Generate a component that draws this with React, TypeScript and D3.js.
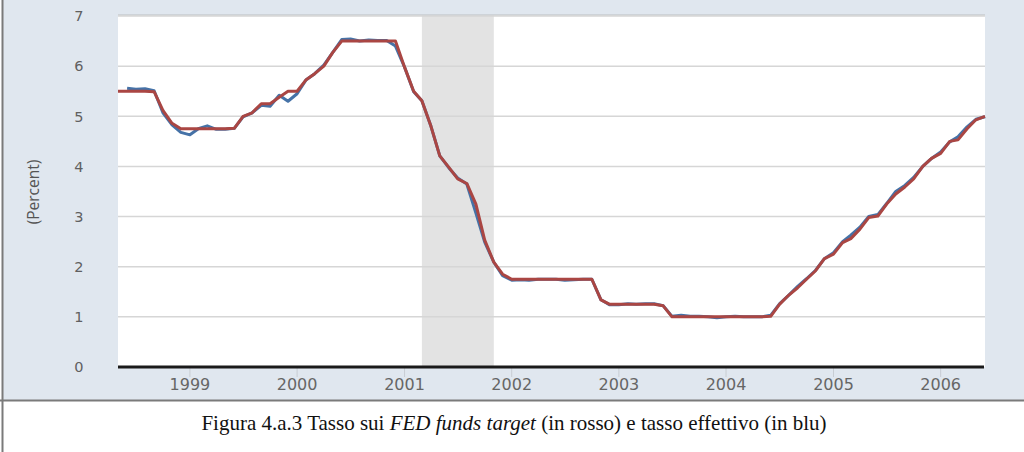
import * as d3 from 'd3';

// monthly averages, FED funds target (red) from May 1998, effective rate (blue) from Jun 1998
const targetStart = '1998-05';
const effectiveStart = '1998-06';
const endMonth = '2006-06';

const targetRate = [
  5.5, 5.5, 5.5, 5.5, 5.49, 5.12, 4.86, 4.75,
  4.75, 4.75, 4.75, 4.75, 4.75, 4.76, 5.0, 5.07, 5.25, 5.25, 5.38, 5.5,
  5.5, 5.73, 5.85, 6.0, 6.27, 6.5, 6.5, 6.5, 6.5, 6.5, 6.5, 6.5,
  5.98, 5.5, 5.31, 4.8, 4.21, 3.98, 3.75, 3.66, 3.25, 2.53, 2.09, 1.85,
  1.75, 1.75, 1.75, 1.75, 1.75, 1.75, 1.75, 1.75, 1.75, 1.75, 1.34, 1.25,
  1.25, 1.25, 1.25, 1.25, 1.25, 1.22, 1.0, 1.0, 1.0, 1.0, 1.0, 1.0,
  1.0, 1.0, 1.0, 1.0, 1.0, 1.01, 1.25, 1.43, 1.58, 1.75, 1.92, 2.16,
  2.25, 2.48, 2.56, 2.75, 2.98, 3.01, 3.25, 3.45, 3.59, 3.75, 4.0, 4.16,
  4.26, 4.5, 4.53, 4.75, 4.93, 5.0,
];

const effectiveRate = [
  5.56, 5.54, 5.55, 5.51, 5.07, 4.83, 4.68,
  4.63, 4.76, 4.81, 4.74, 4.74, 4.76, 4.99, 5.07, 5.22, 5.2, 5.42, 5.3,
  5.45, 5.73, 5.85, 6.02, 6.27, 6.53, 6.54, 6.5, 6.52, 6.51, 6.51, 6.4,
  5.98, 5.49, 5.31, 4.8, 4.21, 3.97, 3.77, 3.65, 3.07, 2.49, 2.09, 1.82,
  1.73, 1.74, 1.73, 1.75, 1.75, 1.75, 1.73, 1.74, 1.75, 1.75, 1.34, 1.24,
  1.24, 1.26, 1.25, 1.26, 1.26, 1.22, 1.01, 1.03, 1.01, 1.01, 1.0, 0.98,
  1.0, 1.01, 1.0, 1.0, 1.0, 1.03, 1.26, 1.43, 1.61, 1.76, 1.93, 2.16,
  2.28, 2.5, 2.63, 2.79, 3.0, 3.04, 3.26, 3.5, 3.62, 3.78, 4.0, 4.16,
  4.29, 4.49, 4.59, 4.79, 4.94, 4.99,
];

const recession = ['2001-03', '2001-11'];
const yTicks = [0, 1, 2, 3, 4, 5, 6, 7];
const xTickYears = ['1999', '2000', '2001', '2002', '2003', '2004', '2005', '2006'];

const parseMonth = d3.timeParse('%Y-%m');
const parseYear = d3.timeParse('%Y');

const App = () => {
  const width = 1024;
  const height = 452;
  const plot = { left: 118, right: 985, top: 16, bottom: 367 };

  const monthsFrom = (start: string) =>
    d3.timeMonth.range(parseMonth(start)!, d3.timeMonth.offset(parseMonth(endMonth)!, 1));
  const targetDates = monthsFrom(targetStart);
  const effectiveDates = monthsFrom(effectiveStart);

  const x = d3
    .scaleTime()
    .domain([parseMonth(targetStart)!, parseMonth(endMonth)!])
    .range([plot.left, plot.right]);
  const y = d3.scaleLinear().domain([0, 7]).range([plot.bottom, plot.top]);

  const line = d3
    .line<[Date, number]>()
    .x(d => x(d[0]))
    .y(d => y(d[1]));

  const targetPath = line(targetDates.map((d, i) => [d, targetRate[i]]))!;
  const effectivePath = line(effectiveDates.map((d, i) => [d, effectiveRate[i]]))!;

  const recX0 = x(parseMonth(recession[0])!);
  const recX1 = x(parseMonth(recession[1])!);

  return (
    <div style={{ position: 'absolute', left: 0, top: 0 }}>
      <svg width={width} height={height} style={{ display: 'block' }}>
        <rect x={0} y={0} width={width} height={height} fill="#ffffff" />
        <rect x={3} y={0} width={width - 3} height={400} fill="#e0e7ef" />
        <rect
          x={plot.left}
          y={plot.top - 1}
          width={plot.right - plot.left}
          height={plot.bottom - plot.top + 1}
          fill="#ffffff"
        />
        <rect x={recX0} y={plot.top - 1} width={recX1 - recX0} height={plot.bottom - plot.top + 1} fill="#e3e3e3" />
        <line x1={plot.left} x2={plot.right} y1={plot.top - 1} y2={plot.top - 1} stroke="#c9ccd0" strokeWidth={1.5} />
        {yTicks.slice(1).map(t => (
          <line key={t} x1={plot.left} x2={plot.right} y1={y(t)} y2={y(t)} stroke="#d6d6d6" strokeWidth={1.5} />
        ))}
        {yTicks.map(t => (
          <text
            key={t}
            x={83.5}
            y={y(t)}
            dy="0.36em"
            textAnchor="end"
            fontFamily="DejaVu Sans"
            fontSize={14.5}
            fill="#606060"
          >
            {t}
          </text>
        ))}
        <text
          transform={`translate(39,192) rotate(-90)`}
          textAnchor="middle"
          fontFamily="Open Sans"
          fontSize={15.5}
          fill="#555"
        >
          (Percent)
        </text>
        {xTickYears.map(yr => {
          const px = x(parseYear(yr)!);
          return (
            <g key={yr}>
              <line x1={px} x2={px} y1={plot.bottom} y2={plot.bottom + 10} stroke="#c8cdd3" strokeWidth={1} />
              <text x={px} y={390} textAnchor="middle" fontFamily="DejaVu Sans" fontSize={16} fill="#666">
                {yr}
              </text>
            </g>
          );
        })}
        <path d={effectivePath} fill="none" stroke="#4572a7" strokeWidth={3} strokeLinejoin="round" />
        <path d={targetPath} fill="none" stroke="#aa4643" strokeWidth={3} strokeLinejoin="round" />
        <line x1={plot.left} x2={plot.right - 1} y1={plot.bottom} y2={plot.bottom} stroke="#1a1a1a" strokeWidth={3} />
        <line x1={0} x2={width} y1={400.5} y2={400.5} stroke="#7a7a7a" strokeWidth={2} />
        <line x1={2.5} x2={2.5} y1={0} y2={height} stroke="#7a7a7a" strokeWidth={2} />
        <text x={514} y={430} textAnchor="middle" fontFamily="Liberation Serif" fontSize={21} fill="#111">
          Figura 4.a.3 Tasso sui <tspan fontStyle="italic">FED funds target</tspan> (in rosso) e tasso effettivo (in blu)
        </text>
      </svg>
    </div>
  );
};

export default App;
